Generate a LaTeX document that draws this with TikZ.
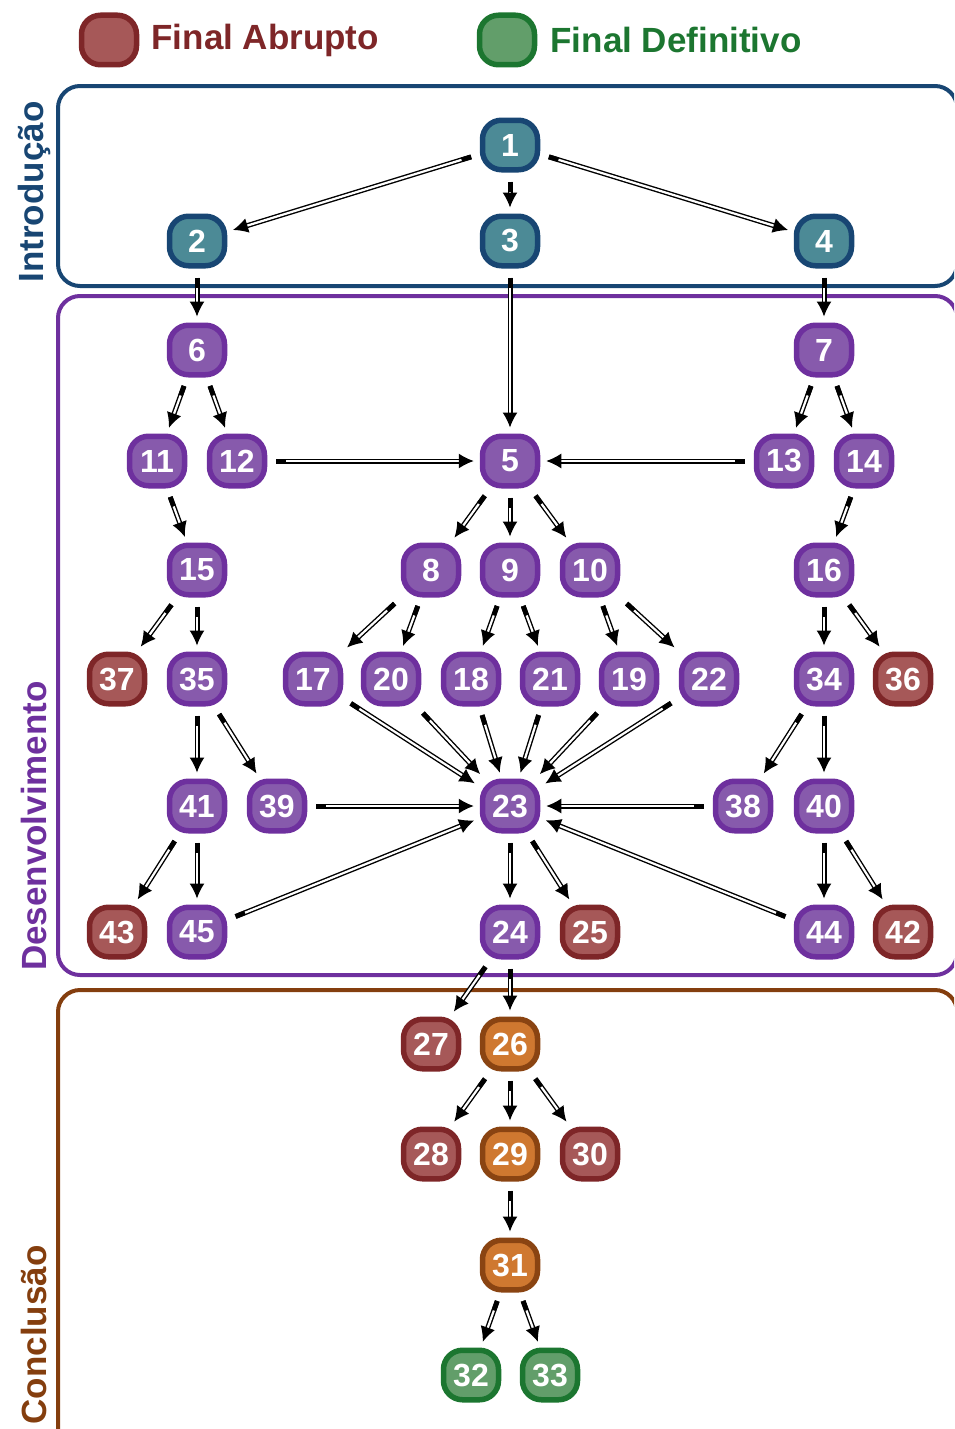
\documentclass[tikz,border=0pt]{standalone}
\usepackage{fontspec}
\setmainfont{Liberation Sans}
\usetikzlibrary{arrows.meta,calc}
\definecolor{ifill}{RGB}{76,138,150}
\definecolor{idraw}{RGB}{24,70,115}
\definecolor{pfill}{RGB}{135,90,172}
\definecolor{pdraw}{RGB}{110,48,158}
\definecolor{rfill}{RGB}{166,88,88}
\definecolor{rdraw}{RGB}{126,38,40}
\definecolor{ofill}{RGB}{207,120,48}
\definecolor{odraw}{RGB}{138,68,18}
\definecolor{gfill}{RGB}{98,158,106}
\definecolor{gdraw}{RGB}{28,118,48}
\definecolor{cframe}{RGB}{132,62,14}
\tikzset{
  nd/.style={rectangle, rounded corners=19pt, minimum width=55pt, minimum height=49.5pt,
    line width=5.5pt, font=\bfseries\fontsize{32}{32}\selectfont, text=white, inner sep=0pt},
  ni/.style={nd, fill=ifill, draw=idraw},
  np/.style={nd, fill=pfill, draw=pdraw},
  nr/.style={nd, fill=rfill, draw=rdraw},
  no/.style={nd, fill=ofill, draw=odraw},
  ng/.style={nd, fill=gfill, draw=gdraw},
  ar/.style={draw=black, line width=1.4pt, double=white, double distance=2.2pt,
    -{Latex[length=15pt,width=15pt]}, shorten >=6pt, shorten <=9pt},
  tailseg/.style={draw=black, line width=4.6pt},
  frame/.style={line width=4pt, rounded corners=22pt},
  sect/.style={rotate=90, font=\bfseries\fontsize{35}{35}\selectfont},
  leg/.style={font=\bfseries\fontsize{35}{35}\selectfont, anchor=west}
}
\begin{document}
\begin{tikzpicture}[x=1pt,y=-1pt]
\useasboundingbox (0,0) rectangle (954,1429);
\clip (0,0) rectangle (954,1429);
% frames
\draw[frame, draw=idraw] (58,86) rectangle (957,286);
\draw[frame, draw=pdraw] (58,296) rectangle (957,975);
\draw[frame, draw=cframe] (58,990) rectangle (957,1460);
% section labels
\node[sect, text=idraw] (lint) at (34,192) {Introdução};
\node[sect, text=pdraw] (ldes) at (34,826) {Desenvolvimento};
\node[sect, text=cframe] (lcon) at (34,1335) {Conclusão};
% legend
\node[nr] (legr) at (109,40) {};
\node[leg, text=rdraw] (legrt) at (148,40) {Final Abrupto};
\node[ng] (legg) at (507,40) {};
\node[leg, text=gdraw] (leggt) at (547,40) {Final Definitivo};
% nodes
\node[ni] (n1) at (510,145) {1};
\node[ni] (n2) at (197,241) {2};
\node[ni] (n3) at (510,241) {3};
\node[ni] (n4) at (824,241) {4};
\node[np] (n6) at (197,350) {6};
\node[np] (n7) at (824,350) {7};
\node[np] (n11) at (157,461) {11};
\node[np] (n12) at (237,461) {12};
\node[np] (n5) at (510,461) {5};
\node[np] (n13) at (784,461) {13};
\node[np] (n14) at (864,461) {14};
\node[np] (n15) at (197,570) {15};
\node[np] (n8) at (431,570) {8};
\node[np] (n9) at (510,570) {9};
\node[np] (n10) at (590,570) {10};
\node[np] (n16) at (824,570) {16};
\node[nr] (n37) at (117,679) {37};
\node[np] (n35) at (197,679) {35};
\node[np] (n17) at (313,679) {17};
\node[np] (n20) at (391,679) {20};
\node[np] (n18) at (471,679) {18};
\node[np] (n21) at (550,679) {21};
\node[np] (n19) at (629,679) {19};
\node[np] (n22) at (709,679) {22};
\node[np] (n34) at (824,679) {34};
\node[nr] (n36) at (903,679) {36};
\node[np] (n41) at (197,806) {41};
\node[np] (n39) at (277,806) {39};
\node[np] (n23) at (510,806) {23};
\node[np] (n38) at (743,806) {38};
\node[np] (n40) at (824,806) {40};
\node[nr] (n43) at (117,932) {43};
\node[np] (n45) at (197,932) {45};
\node[np] (n24) at (510,932) {24};
\node[nr] (n25) at (590,932) {25};
\node[np] (n44) at (824,932) {44};
\node[nr] (n42) at (903,932) {42};
\node[nr] (n27) at (431,1044) {27};
\node[no] (n26) at (510,1044) {26};
\node[nr] (n28) at (431,1154) {28};
\node[no] (n29) at (510,1154) {29};
\node[nr] (n30) at (590,1154) {30};
\node[no] (n31) at (510,1265) {31};
\node[ng] (n32) at (471,1375) {32};
\node[ng] (n33) at (550,1375) {33};
% connectors
\foreach \a/\b in {1/2,1/3,1/4,2/6,3/5,4/7,6/11,6/12,7/13,7/14,12/5,13/5,11/15,14/16,
  5/8,5/9,5/10,15/37,15/35,16/34,16/36,8/17,8/20,9/18,9/21,10/19,10/22,
  35/41,35/39,34/38,34/40,17/23,20/23,18/23,21/23,19/23,22/23,39/23,38/23,45/23,44/23,
  41/43,41/45,40/44,40/42,23/24,23/25,24/27,24/26,26/28,26/29,26/30,29/31,31/32,31/33}
{
  \draw[ar] (n\a) -- (n\b);
  \path (n\a) -- (n\b) coordinate[pos=0] (ts) coordinate[pos=1] (te);
  \draw[tailseg] ($(ts)!9pt!(te)$) -- ($(ts)!19pt!(te)$);
}
\end{tikzpicture}
\end{document}
